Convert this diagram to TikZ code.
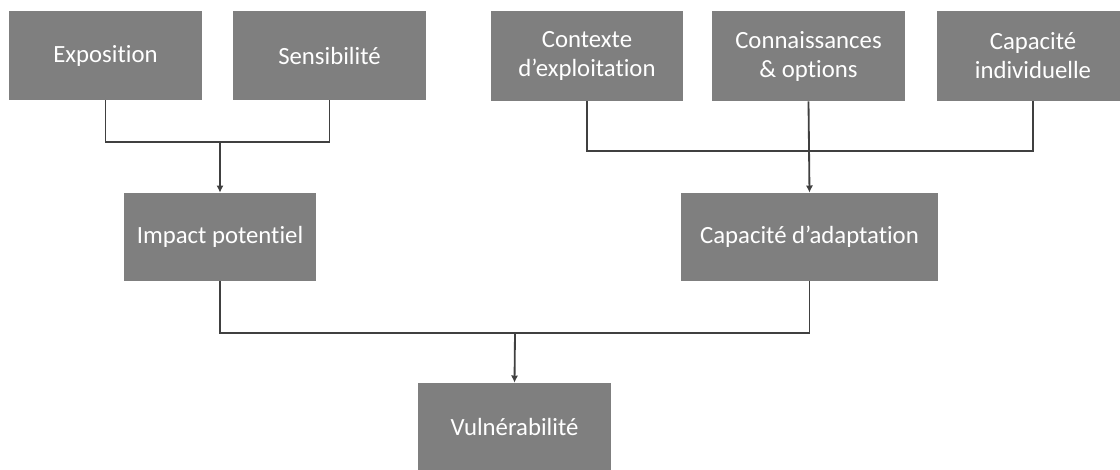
\documentclass[tikz,border=0pt]{standalone}
\usepackage{fontspec}
\setmainfont{Carlito}[Ligatures={NoCommon,NoRequired}]
\usetikzlibrary{arrows.meta}
\definecolor{boxgray}{RGB}{127,127,127}
\tikzset{
    box/.style={shape=rectangle,fill=boxgray,text=white!94,align=center,
        font=\fontsize{17.6}{20.6}\selectfont,inner sep=0pt},
    link/.style={draw=black!75,line width=1.3pt},
    arr/.style={link,-{Latex[length=1.8mm,width=1.8mm]}}
}
\begin{document}
\begin{tikzpicture}[x=0.025cm,y=-0.025cm]
    \useasboundingbox (0,0) rectangle (1120,469);

    \node[box,minimum width=4.825cm,minimum height=2.225cm] (expo) at (105.5,55.5) {Exposition};
    \node[box,minimum width=4.825cm,minimum height=2.225cm] (sensi) at (329.5,55.5) {Sensibilité};
    \node[box,minimum width=4.8cm,minimum height=2.25cm] (ctx) at (587,56) {Contexte\\d’exploitation};
    \node[box,minimum width=4.825cm,minimum height=2.25cm] (conn) at (808.5,56) {Connaissances\\\& options};
    \node[box,minimum width=4.8cm,minimum height=2.25cm] (indiv) at (1033,56) {Capacité\\individuelle};

    \node[box,minimum width=4.8cm,minimum height=2.2cm] (impact) at (220,237) {Impact potentiel};
    \node[box,minimum width=6.425cm,minimum height=2.2cm] (adapt) at (809.5,237) {Capacité d’adaptation};

    \node[box,minimum width=4.825cm,minimum height=2.2cm] (vuln) at (514.5,427) {Vulnérabilité};

    \coordinate (j1) at (220,142);
    \coordinate (j2) at (809,151);
    \coordinate (j3) at (515,333);

    \path[link] (expo.south) |- (j1) -| (sensi.south);
    \path[arr] (j1) -- (impact.north);

    \path[link] (ctx.south) |- (j2) -| (indiv.south);
    \path[arr] (conn.south) -- (adapt.north);

    \path[link] (impact.south) |- (j3) -| (adapt.south);
    \path[arr] (j3) -- (vuln.north);
\end{tikzpicture}
\end{document}
